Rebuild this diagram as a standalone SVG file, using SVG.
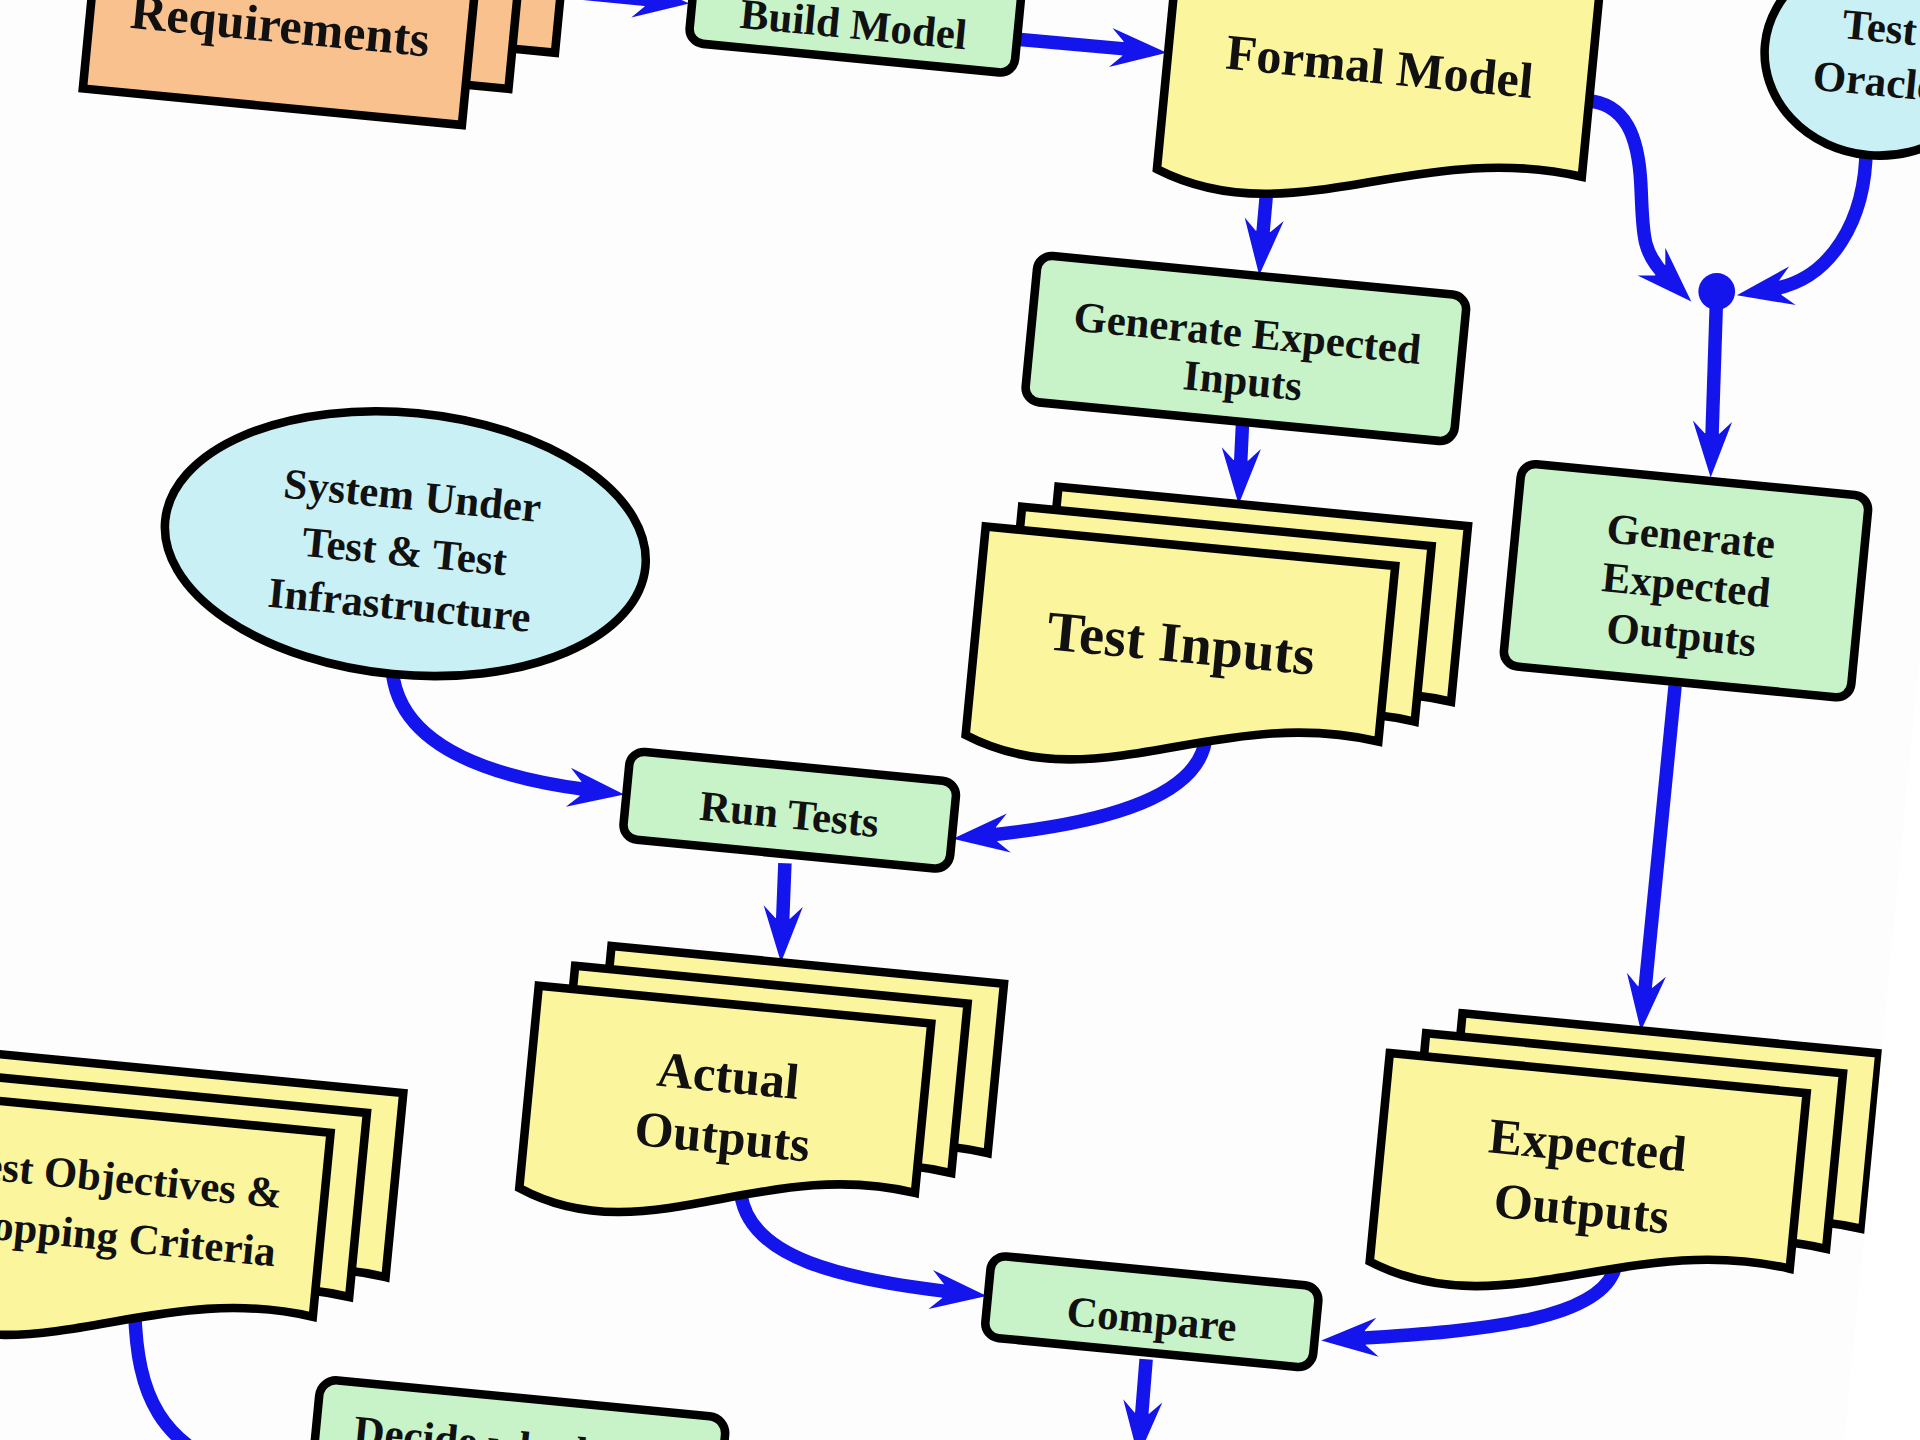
<svg xmlns="http://www.w3.org/2000/svg" width="1920" height="1440" viewBox="0 0 1920 1440">
<defs>
<style>
.ol{stroke:#000;stroke-width:7;stroke-linejoin:miter}
.yel{fill:#fbf69e}
.org{fill:#f8c18e}
.grn{fill:#c8f3c8}
.cyn{fill:#c9f0f5}
.t{font-family:"Liberation Serif","Times New Roman",serif;font-weight:bold;fill:#111;text-anchor:middle}
.c{fill:none;stroke:#1414ec;stroke-width:11;marker-end:url(#ah)}
</style>
<marker id="ah" markerUnits="userSpaceOnUse" markerWidth="60" markerHeight="40" viewBox="0 -20 60 40" refX="16" refY="0" orient="auto" overflow="visible">
<path d="M46,0 L0,-16 L10,-6 L10,6 L0,16 Z" fill="#1414ec"/>
</marker>
<path id="docFM" d="M0,0 H346 V173 C207.6,155 114.2,245 0,200 Z"/>
<path id="docTI" d="M0,0 H336 V144 C201.6,126 110.9,216 0,171 Z"/>
<path id="docAO" d="M0,0 H322 V139 C193.2,121 106.3,211 0,166 Z"/>
<path id="docEO" d="M0,0 H342 V144 C205.2,126 112.9,216 0,171 Z"/>
<path id="docTO" d="M0,0 H335 V151 C201,133 110.6,223 0,178 Z"/>
</defs>
<rect x="0" y="0" width="1920" height="1440" fill="#fdfdfe"/>
<g transform="scale(1.22449)">
<g id="connectors">
<path class="c" d="M440,-9 L533,0"/>
<path class="c" d="M831,32 L923,40.3"/>
<path class="c" d="M1035,150 L1031,195"/>
<path class="c" d="M1015,340 L1013,382"/>
<path class="c" d="M1295,82 C1328,84 1338,112 1340,150 C1342,190 1340,205 1360,225"/>
<path class="c" d="M1524,120 C1524,180 1495,228 1448,236"/>
<path class="c" d="M1402,238 L1398,360"/>
<path class="c" d="M1368,560 L1343,812"/>
<path class="c" d="M320,540 C320,600 380,632 480,645"/>
<path class="c" d="M985,600 C982,650 905,672 808,682"/>
<path class="c" d="M641,705 L639,756"/>
<path class="c" d="M605,975 C612,1028 690,1045 776,1055"/>
<path class="c" d="M1320,1030 C1315,1078 1210,1087 1109,1093"/>
<path class="c" d="M936,1110 L932,1160"/>
<path class="c" d="M110,1070 C112,1140 130,1180 200,1205"/>
<circle cx="1402" cy="238" r="15" fill="#1414ec"/>
</g>
<g id="requirements" transform="translate(83,-87) rotate(5.5)">
<rect x="70" y="-66" width="311" height="160" class="org ol"/>
<rect x="35" y="-33" width="311" height="160" class="org ol"/>
<rect x="0" y="0" width="311" height="160" class="org ol"/>
<text x="155.5" y="107" class="t" font-size="41">Requirements</text>
</g>
<g id="build-model" transform="translate(569,-37) rotate(5.5)">
<rect width="267" height="72" rx="12" class="grn ol"/>
<text x="133" y="56" class="t" font-size="35">Build Model</text>
</g>
<g id="formal-model" transform="translate(964,-61) rotate(5.5)">
<use href="#docFM" class="yel ol"/>
<text x="173" y="113" class="t" font-size="41">Formal Model</text>
</g>
<g id="test-oracle" transform="translate(1533,45) rotate(5.5)">
<ellipse cx="0" cy="0" rx="92" ry="82" class="cyn ol"/>
<text x="0" y="-11" class="t" font-size="35">Test</text>
<text x="0" y="33" class="t" font-size="35">Oracle</text>
</g>
<g id="generate-expected-inputs" transform="translate(848,208) rotate(5.5)">
<rect width="352" height="120" rx="12" class="grn ol"/>
<text x="176" y="59" class="t" font-size="35">Generate Expected</text>
<text x="176" y="98" class="t" font-size="35">Inputs</text>
</g>
<g id="generate-expected-outputs" transform="translate(1243,378) rotate(5.5)">
<rect width="285" height="166" rx="12" class="grn ol"/>
<text x="143" y="58" class="t" font-size="35">Generate</text>
<text x="143" y="98" class="t" font-size="35">Expected</text>
<text x="143" y="139" class="t" font-size="35">Outputs</text>
</g>
<g id="system-under-test" transform="translate(331,444) rotate(5.5)">
<ellipse cx="0" cy="0" rx="197" ry="107" class="cyn ol"/>
<text x="2" y="-28" class="t" font-size="35">System Under</text>
<text x="0" y="18" class="t" font-size="35">Test &amp; Test</text>
<text x="0" y="62" class="t" font-size="35">Infrastructure</text>
</g>
<g id="test-inputs" transform="translate(805,430) rotate(5.5)">
<use href="#docTI" class="yel ol" transform="translate(56,-38)"/>
<use href="#docTI" class="yel ol" transform="translate(28,-19)"/>
<use href="#docTI" class="yel ol"/>
<text x="168" y="95" class="t" font-size="46">Test Inputs</text>
</g>
<g id="run-tests" transform="translate(515,613) rotate(5.5)">
<rect width="268" height="72" rx="12" class="grn ol"/>
<text x="134" y="51" class="t" font-size="35">Run Tests</text>
</g>
<g id="actual-outputs" transform="translate(440,805) rotate(5.5)">
<use href="#docAO" class="yel ol" transform="translate(56,-38)"/>
<use href="#docAO" class="yel ol" transform="translate(28,-19)"/>
<use href="#docAO" class="yel ol"/>
<text x="161" y="72" class="t" font-size="41">Actual</text>
<text x="161" y="122" class="t" font-size="41">Outputs</text>
</g>
<g id="expected-outputs" transform="translate(1135,860) rotate(5.5)">
<use href="#docEO" class="yel ol" transform="translate(56,-38)"/>
<use href="#docEO" class="yel ol" transform="translate(28,-19)"/>
<use href="#docEO" class="yel ol"/>
<text x="168" y="73" class="t" font-size="41">Expected</text>
<text x="168" y="125" class="t" font-size="41">Outputs</text>
</g>
<g id="test-objectives" transform="translate(-63.5,893) rotate(5.5)">
<use href="#docTO" class="yel ol" transform="translate(56,-38)"/>
<use href="#docTO" class="yel ol" transform="translate(28,-19)"/>
<use href="#docTO" class="yel ol"/>
<text x="168" y="65" class="t" font-size="35">Test Objectives &amp;</text>
<text x="168" y="113" class="t" font-size="35">Stopping Criteria</text>
</g>
<g id="compare" transform="translate(810,1025) rotate(5.5)">
<rect width="269" height="67" rx="12" class="grn ol"/>
<text x="135" y="51" class="t" font-size="35">Compare</text>
</g>
<g id="decide" transform="translate(262,1126) rotate(5.5)">
<rect width="333" height="100" rx="14" class="grn ol"/>
<text x="31" y="51" class="t" font-size="35" style="text-anchor:start">Decide whether</text>
</g>
<polygon points="1620,-10 1700,-10 1700,1200 1504,1200" fill="#ffffff"/>
</g>
</svg>
